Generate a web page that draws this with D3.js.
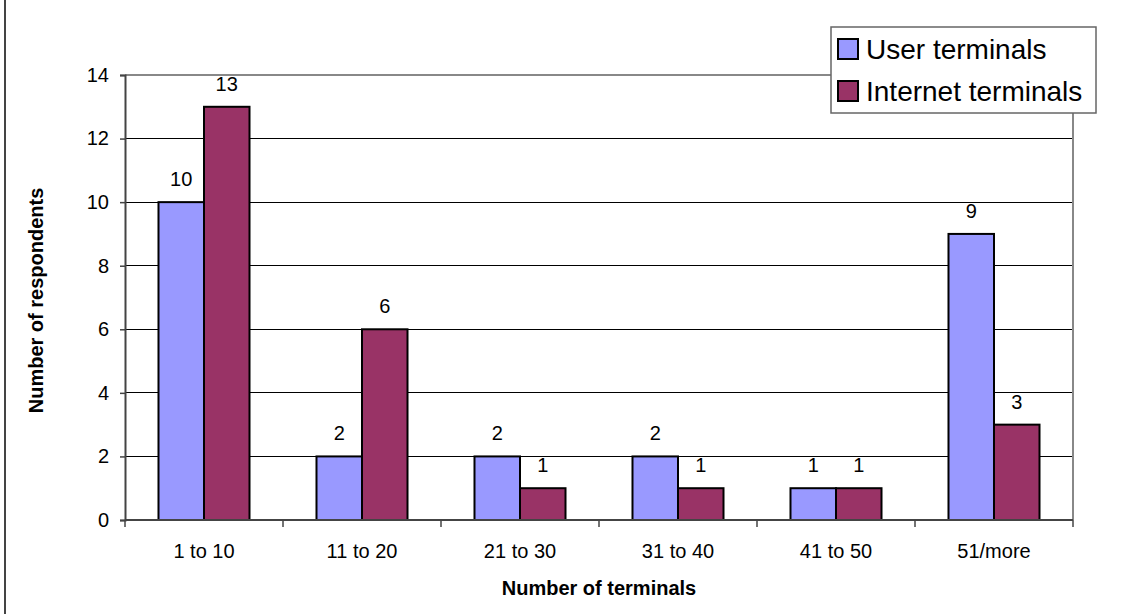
<!DOCTYPE html>
<html>
<head>
<meta charset="utf-8">
<script src="https://cdn.jsdelivr.net/npm/d3@7"></script>
<style>
  html, body { margin: 0; padding: 0; background: #fff; }
  svg { display: block; font-family: "Liberation Sans", Arial, sans-serif; }
</style>
</head>
<body>
<svg id="chart" width="1125" height="614"></svg>
<script>
// Survey results: respondents grouped by number of terminals
const categories = ["1 to 10", "11 to 20", "21 to 30", "31 to 40", "41 to 50", "51/more"];
const seriesNames = ["User terminals", "Internet terminals"];
const userTerminals = [10, 2, 2, 2, 1, 9];
const internetTerminals = [13, 6, 1, 1, 1, 3];
const yTicks = [0, 2, 4, 6, 8, 10, 12, 14];

const colors = ["#9999FF", "#993366"];
const seriesValues = [userTerminals, internetTerminals];

const svg = d3.select("#chart");
const W = 1125, H = 614;
const plot = { left: 125, right: 1073, top: 75, bottom: 520 };

// outer frame edge
svg.append("line")
  .attr("x1", 5).attr("x2", 5).attr("y1", 0).attr("y2", H)
  .attr("stroke", "#444").attr("stroke-width", 2);

const x0 = d3.scaleBand()
  .domain(categories)
  .range([plot.left, plot.right])
  .paddingInner(0.424)
  .paddingOuter(0.212);

const x1 = d3.scaleBand()
  .domain(seriesNames)
  .range([0, x0.bandwidth()])
  .padding(0);

const y = d3.scaleLinear().domain([0, 14]).range([plot.bottom, plot.top]);

// gridlines
svg.append("g")
  .selectAll("line")
  .data(yTicks.filter(t => t > 0 && t < 14))
  .join("line")
  .attr("x1", plot.left).attr("x2", plot.right)
  .attr("y1", d => y(d)).attr("y2", d => y(d))
  .attr("stroke", "#000").attr("stroke-width", 1)
  .attr("shape-rendering", "crispEdges");

// plot area border (top and right)
svg.append("path")
  .attr("d", `M${plot.left},${plot.top}H${plot.right}V${plot.bottom}`)
  .attr("fill", "none").attr("stroke", "#888").attr("stroke-width", 2);

// bars
const rows = categories.map((c, i) => ({
  cat: c,
  vals: seriesNames.map((s, k) => ({ series: s, k, value: seriesValues[k][i] }))
}));

const groups = svg.append("g")
  .selectAll("g")
  .data(rows)
  .join("g")
  .attr("transform", d => `translate(${x0(d.cat)},0)`);

groups.selectAll("rect")
  .data(d => d.vals)
  .join("rect")
  .attr("x", d => x1(d.series))
  .attr("y", d => y(d.value))
  .attr("width", x1.bandwidth())
  .attr("height", d => y(0) - y(d.value))
  .attr("fill", d => colors[d.k])
  .attr("stroke", "#000")
  .attr("stroke-width", 2);

groups.selectAll("text")
  .data(d => d.vals)
  .join("text")
  .attr("x", d => x1(d.series) + x1.bandwidth() / 2)
  .attr("y", d => y(d.value) - 16)
  .attr("text-anchor", "middle")
  .attr("font-size", 20)
  .attr("fill", "#000")
  .text(d => d.value);

// y axis
const yAxis = svg.append("g")
  .attr("transform", `translate(${plot.left},0)`)
  .call(d3.axisLeft(y).tickValues(yTicks).tickSize(5).tickPadding(11));
yAxis.select(".domain").attr("stroke", "#444").attr("stroke-width", 2);
yAxis.selectAll(".tick line").attr("stroke", "#444").attr("stroke-width", 1.5);
yAxis.selectAll(".tick text")
  .attr("font-size", 20).attr("font-family", "Liberation Sans, Arial, sans-serif").attr("fill", "#000");

// x axis: ticks sit on category boundaries
const xAxis = svg.append("g")
  .attr("transform", `translate(0,${plot.bottom})`);
xAxis.append("line")
  .attr("x1", plot.left).attr("x2", plot.right)
  .attr("stroke", "#444").attr("stroke-width", 2);
const step = x0.step();
const bounds = d3.range(categories.length + 1).map(i => plot.left + i * step);
xAxis.selectAll("line.tk")
  .data(bounds)
  .join("line")
  .attr("class", "tk")
  .attr("x1", d => d).attr("x2", d => d)
  .attr("y1", 0).attr("y2", 7)
  .attr("stroke", "#444").attr("stroke-width", 1.5);
xAxis.selectAll("text")
  .data(categories)
  .join("text")
  .attr("x", d => x0(d) + x0.bandwidth() / 2)
  .attr("y", 38)
  .attr("text-anchor", "middle")
  .attr("font-size", 20)
  .attr("fill", "#000")
  .text(d => d);

// axis titles
svg.append("text")
  .attr("x", (plot.left + plot.right) / 2)
  .attr("y", 595)
  .attr("text-anchor", "middle")
  .attr("font-size", 20)
  .attr("font-weight", "bold")
  .text("Number of terminals");

svg.append("text")
  .attr("transform", `translate(43,${(plot.top + plot.bottom) / 2 + 3}) rotate(-90)`)
  .attr("text-anchor", "middle")
  .attr("font-size", 20)
  .attr("font-weight", "bold")
  .text("Number of respondents");

// legend
const legend = svg.append("g").attr("transform", "translate(831,27)");
legend.append("rect")
  .attr("width", 265).attr("height", 86)
  .attr("fill", "#fff").attr("stroke", "#666").attr("stroke-width", 1.5);
const items = legend.selectAll("g")
  .data(seriesNames)
  .join("g")
  .attr("transform", (d, i) => `translate(0,${12 + i * 42})`);
items.append("rect")
  .attr("x", 7).attr("y", 0).attr("width", 20).attr("height", 20)
  .attr("fill", (d, i) => colors[i]).attr("stroke", "#000").attr("stroke-width", 2);
items.append("text")
  .attr("x", 35).attr("y", 20)
  .attr("font-size", 28)
  .attr("fill", "#000")
  .text(d => d);
</script>
</body>
</html>
